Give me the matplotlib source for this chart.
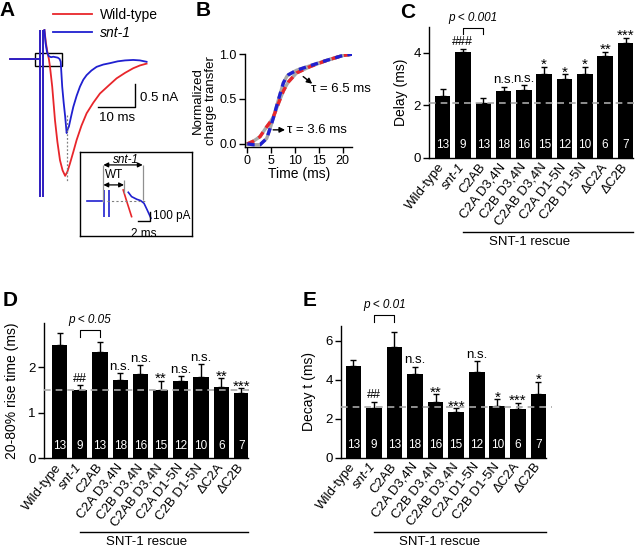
import numpy as np
import matplotlib
matplotlib.use("Agg")
import matplotlib.pyplot as plt
from matplotlib.patches import Rectangle
from matplotlib.transforms import blended_transform_factory, ScaledTranslation

plt.rcParams['font.family'] = ['Liberation Sans', 'DejaVu Sans']
plt.rcParams['font.size'] = 9
plt.rcParams['axes.linewidth'] = 1.0
plt.rcParams['xtick.major.width'] = 1.0
plt.rcParams['ytick.major.width'] = 1.0
plt.rcParams['xtick.major.size'] = 4
plt.rcParams['ytick.major.size'] = 4

RED = '#e8262b'
BLUE = '#2020d0'
GRAY = '#a8a8a8'

# ---- panel A: example EPSC traces (ms, nA) ----
wt_t = [-8.1, 0, np.nan, 1.2, 1.6, 2.0, 2.4, 2.7, 3.3, 4.05, 4.7, 5.4, 6.1, 6.8, 7.4, 8.1,
        9.0, 9.9, 11.2, 12.6, 14.4, 16.2, 18.5, 20.7, 23.0, 25.2, 27.0, 28.8]
wt_i = [0, 0, np.nan, 0.63, 0.35, 0.15, 0.0, -0.17, -0.6, -1.33, -1.8, -2.2, -2.42, -2.54, -2.45, -2.27,
        -2.02, -1.76, -1.45, -1.18, -0.95, -0.75, -0.58, -0.42, -0.3, -0.2, -0.14, -0.1]
snt_t = [-8.1, 0, np.nan, 1.2, 1.5, 1.9, 2.4, 3.0, 3.6, 4.2, 4.8, 5.3, 5.6, 6.0, 6.4, 6.8, 7.2, 7.5,
         7.8, 8.4, 9.0, 9.9, 10.8, 11.7, 12.6, 13.9, 15.3, 17.1, 18.9, 21.0, 23.0, 25.2, 27.0, 28.8]
snt_i = [0, 0, np.nan, 0.63, 0.35, 0.15, 0.06, 0.04, 0.05, 0.04, 0.03, 0.0, -0.06, -0.6, -0.95, -1.25, -1.61, -1.52,
         -1.47, -1.25, -1.04, -0.8, -0.6, -0.45, -0.35, -0.25, -0.17, -0.12, -0.09, -0.05, -0.03, -0.02, -0.03, -0.06]
artifact_t = [0, 0.8]

# inset (ms, pA)
in_base_t = [-2.9, -0.4]
in_art_t = [0.05, 0.9]
in_wt_t = [3.2, 3.8, 4.6]
in_wt_i = [122, -7, -174]
in_snt_t = [4.05, 4.6, 5.45, 6.1, 6.67, 7.2, 7.83]
in_snt_i = [96, 48, 19, 4, -26, -100, -192]

# ---- panel B: normalized charge transfer ----
b_t = [0, 1.26, 2.65, 4.05, 4.75, 5.45, 6.5, 7.55, 8.25, 8.6, 10.3, 13.1, 16.6, 20.0, 22.0]
b_wt = [0.0, 0.03, 0.08, 0.19, 0.24, 0.30, 0.45, 0.59, 0.66, 0.69, 0.79, 0.86, 0.93, 0.985, 1.0]
b_snt = [0.0, -0.01, -0.01, 0.06, 0.17, 0.29, 0.49, 0.68, 0.75, 0.77, 0.82, 0.87, 0.93, 0.985, 1.0]

# ---- bar panels ----
groups = ['Wild-type', 'snt-1', 'C2AB', 'C2A D3,4N', 'C2B D3,4N', 'C2AB D3,4N',
          'C2A D1-5N', 'C2B D1-5N', '\u0394C2A', '\u0394C2B']
n_cells = [13, 9, 13, 18, 16, 15, 12, 10, 6, 7]

delay_mean = [2.37, 4.04, 2.08, 2.55, 2.59, 3.19, 3.02, 3.19, 3.89, 4.38]
delay_sem = [0.24, 0.12, 0.22, 0.16, 0.19, 0.28, 0.17, 0.28, 0.15, 0.19]
delay_marks = ['', '###', '', 'n.s.', 'n.s.', '*', '*', '*', '**', '***']

rise_mean = [2.49, 1.50, 2.34, 1.72, 1.85, 1.50, 1.71, 1.79, 1.56, 1.44]
rise_sem = [0.27, 0.11, 0.21, 0.15, 0.20, 0.21, 0.10, 0.28, 0.20, 0.10]
rise_marks = ['', '##', '', 'n.s.', 'n.s.', '**', 'n.s.', 'n.s.', '**', '***']

decay_mean = [4.68, 2.53, 5.66, 4.31, 2.87, 2.36, 4.39, 2.62, 2.50, 3.24]
decay_sem = [0.35, 0.34, 0.79, 0.34, 0.37, 0.17, 0.56, 0.37, 0.29, 0.65]
decay_marks = ['', '##', '', 'n.s.', '**', '***', 'n.s.', '*', '***', '*']

fig = plt.figure(figsize=(6.4, 5.47), dpi=100)

# ---------------- A ----------------
axA = fig.add_axes([0, 0.5612, 0.3125, 0.4022])
axA.set_xlim(-10.81, 43.24)
axA.set_ylim(-3.935, 0.848)
axA.axis('off')
axA.vlines(artifact_t, -3.0, 0.63, color=RED, lw=1.3)
lw_wt, = axA.plot(wt_t, wt_i, color=RED, lw=1.3, label='Wild-type')
axA.vlines(artifact_t, -3.0, 0.63, color=BLUE, lw=1.3)
lsnt, = axA.plot(snt_t, snt_i, color=BLUE, lw=1.3, label='snt-1')
axA.plot([7.2, 7.2], [-1.22, -2.67], color='#808080', lw=0.9, ls=(0, (1.5, 1.5)))
axA.add_patch(Rectangle((-1.35, -0.15), 7.25, 0.28, fill=False, ec='black', lw=1.0))
axA.plot([15.7, 25.7, 25.7], [-1.04, -1.04, -0.54], color='black', lw=1.0)
axA.text(27.0, -0.84, '0.5 nA', ha='left', va='center', fontsize=9.5)
axA.text(20.8, -1.28, '10 ms', ha='center', va='center', fontsize=9.5)
leg = fig.legend(handles=[lw_wt, lsnt], loc='upper left', bbox_to_anchor=(0.0828, 0.9854),
                 frameon=False, fontsize=10, handlelength=2.8, handletextpad=0.6,
                 labelspacing=0.3, borderpad=0, borderaxespad=0)
leg.get_texts()[1].set_fontstyle('italic')

# inset
axI = fig.add_axes([0.125, 0.5686, 0.175, 0.1536])
axI.set_xlim(-4, 14.67)
axI.set_ylim(-389, 544)
axI.set_xticks([])
axI.set_yticks([])
for s in axI.spines.values():
    s.set_linewidth(1.0)
axI.plot(in_base_t, [0, 0], color=BLUE, lw=1.2)
axI.vlines(in_art_t, -174, 122, color=BLUE, lw=1.2)
axI.plot(in_wt_t, in_wt_i, color=RED, lw=1.2)
axI.plot(in_snt_t, in_snt_i, color=BLUE, lw=1.2)
axI.plot([0.45, 7.1], [0, 0], color='#808080', lw=0.8, ls=(0, (2, 2)))
axI.vlines([-0.1, 6.45], [-8, 11], [400, 400], color='#909090', lw=0.9)
axI.vlines([3.33], [85], [233], color='#909090', lw=0.9)
axI.annotate('', xy=(-0.1, 400), xytext=(6.45, 400),
             arrowprops=dict(arrowstyle='<|-|>', color='black', lw=0.9, mutation_scale=7, shrinkA=0, shrinkB=0))
axI.annotate('', xy=(-0.1, 178), xytext=(3.33, 178),
             arrowprops=dict(arrowstyle='<|-|>', color='black', lw=0.9, mutation_scale=7, shrinkA=0, shrinkB=0))
axI.text(3.6, 455, 'snt-1', style='italic', ha='center', va='center', fontsize=8.5)
axI.text(1.7, 289, 'WT', ha='center', va='center', fontsize=8.5)
axI.plot([5.67, 7.67, 7.67], [-222, -222, -122], color='black', lw=1.0)
axI.text(8.2, -167, '100 pA', ha='left', va='center', fontsize=8.5)
axI.text(6.7, -300, '2 ms', ha='center', va='top', fontsize=8.5)

# ---------------- B ----------------
axB = fig.add_axes([0.3828, 0.7313, 0.1677, 0.1697])
axB.plot(b_t, b_wt, color=GRAY, lw=2.4, zorder=2)
axB.plot(b_t, b_wt, color=RED, lw=2.4, ls=(0, (2.2, 1.6)), zorder=3)
axB.plot(b_t, b_snt, color=GRAY, lw=2.4, zorder=2)
axB.plot(b_t, b_snt, color=BLUE, lw=2.4, ls=(0, (2.2, 1.6)), zorder=4)
axB.set_xlim(-0.5, 22)
axB.set_ylim(-0.035, 1.0)
axB.set_xticks([0, 5, 10, 15, 20])
axB.set_yticks([0, 0.5, 1.0])
axB.set_yticklabels(['0.0', '0.5', '1.0'])
axB.spines['top'].set_visible(False)
axB.spines['right'].set_visible(False)
axB.tick_params(labelsize=9, pad=2)
axB.set_xlabel('Time (ms)', fontsize=10)
axB.set_ylabel('Normalized\ncharge transfer', fontsize=9.5, linespacing=1.05)
axB.xaxis.set_label_coords(0.5, -0.22)
axB.yaxis.set_label_coords(-0.265, 0.5)
axB.annotate('', xy=(13.6, 0.67), xytext=(11.7, 0.75),
             arrowprops=dict(arrowstyle='-|>', color='black', lw=1.0, mutation_scale=8, shrinkA=0, shrinkB=0))
axB.text(13.3, 0.61, '\u03c4 = 6.5 ms', ha='left', va='center', fontsize=9.5, clip_on=False)
axB.annotate('', xy=(7.9, 0.156), xytext=(5.4, 0.156),
             arrowprops=dict(arrowstyle='-|>', color='black', lw=1.0, mutation_scale=8, shrinkA=0, shrinkB=0))
axB.text(8.3, 0.156, '\u03c4 = 3.6 ms', ha='left', va='center', fontsize=9.5)


def bar_panel(ax, means, sems, marks, ref, ymax, yticks, ylabel, lab_x, xlo, xhi,
              br_y, br_leg, ptext, rescue_y, rescue_x):
    x = np.arange(len(groups))
    ax.errorbar(x, means, yerr=[np.zeros(len(sems)), sems], fmt='none', ecolor='black',
                elinewidth=1.0, capsize=2.5, capthick=1.0, zorder=1)
    ax.bar(x, means, width=0.76, color='black', zorder=2)
    ax.axhline(ref, xmax=1.03, color=GRAY, lw=1.2, ls=(0, (4, 3)), zorder=3, clip_on=False)
    for i, n in enumerate(n_cells):
        ax.annotate(str(n), (i, 0), xytext=(0, 9), textcoords='offset points',
                    ha='center', va='center', color='white', fontsize=8.5, zorder=4)
    for i, m in enumerate(marks):
        if not m:
            continue
        if '*' in m:
            off, fs = -1.5, 11
        elif 'n.s.' in m:
            off, fs = 2.5, 9.5
        else:
            off, fs = 2.5, 9
        ax.annotate(m, (i, means[i] + sems[i]), xytext=(0, off), textcoords='offset points',
                    ha='center', va='baseline', fontsize=fs)
    ax.plot([1, 1, 2, 2], [br_leg, br_y, br_y, br_leg], color='black', lw=0.8, clip_on=False)
    ax.annotate(ptext, (1.5, br_y), xytext=(0, 3), textcoords='offset points',
                ha='center', va='bottom', style='italic', fontsize=8.5, annotation_clip=False)
    ax.set_xlim(xlo, xhi)
    ax.set_ylim(0, ymax)
    ax.set_yticks(yticks)
    ax.set_xticks(x)
    ax.set_xticklabels(groups, rotation=52, ha='right', va='center', rotation_mode='anchor', fontsize=9.5)
    shift = ScaledTranslation(2 / 72, 0, fig.dpi_scale_trans)
    for lab in ax.get_xticklabels():
        lab.set_transform(lab.get_transform() + shift)
    ax.get_xticklabels()[1].set_fontstyle('italic')
    ax.tick_params(axis='x', length=0, pad=5)
    ax.tick_params(axis='y', labelsize=9.5, pad=2)
    ax.spines['top'].set_visible(False)
    ax.spines['right'].set_visible(False)
    ax.set_ylabel(ylabel, fontsize=10)
    ax.yaxis.set_label_coords(lab_x, 0.5)
    trans = blended_transform_factory(ax.transData, ax.transAxes)
    ax.plot([1.0, xhi], [rescue_y, rescue_y], transform=trans, color='black', lw=1.0, clip_on=False)
    ax.text(rescue_x, rescue_y - 0.075, 'SNT-1 rescue', transform=trans, ha='center', va='center', fontsize=9.5)


axC = fig.add_axes([0.6703, 0.7112, 0.3188, 0.2400])
bar_panel(axC, delay_mean, delay_sem, delay_marks, 2.08, 5.0, [0, 2, 4], 'Delay (ms)', -0.105,
          -0.67, 9.37, 4.95, 4.72, 'p < 0.001', -0.564, 4.3)

axD = fig.add_axes([0.0688, 0.1622, 0.3188, 0.2468])
bar_panel(axD, rise_mean, rise_sem, rise_marks, 1.51, 2.97, [0, 1, 2], '20-80% rise time (ms)', -0.125,
          -0.77, 9.33, 2.82, 2.67, 'p < 0.05', -0.544, 4.33)

axE = fig.add_axes([0.5328, 0.1636, 0.3203, 0.2404])
bar_panel(axE, decay_mean, decay_sem, decay_marks, 2.57, 6.75, [0, 2, 4, 6], 'Decay t (ms)', -0.122,
          -0.6, 9.37, 7.29, 6.95, 'p < 0.01', -0.564, 4.2)

for lab, px, py in [('A', 7, 10), ('B', 203, 10), ('C', 408, 12), ('D', 10, 300), ('E', 310, 300)]:
    fig.text(px / 640, 1 - py / 547, lab, fontsize=15, fontweight='bold', ha='center', va='center')

fig.savefig('out.png', dpi=100)
